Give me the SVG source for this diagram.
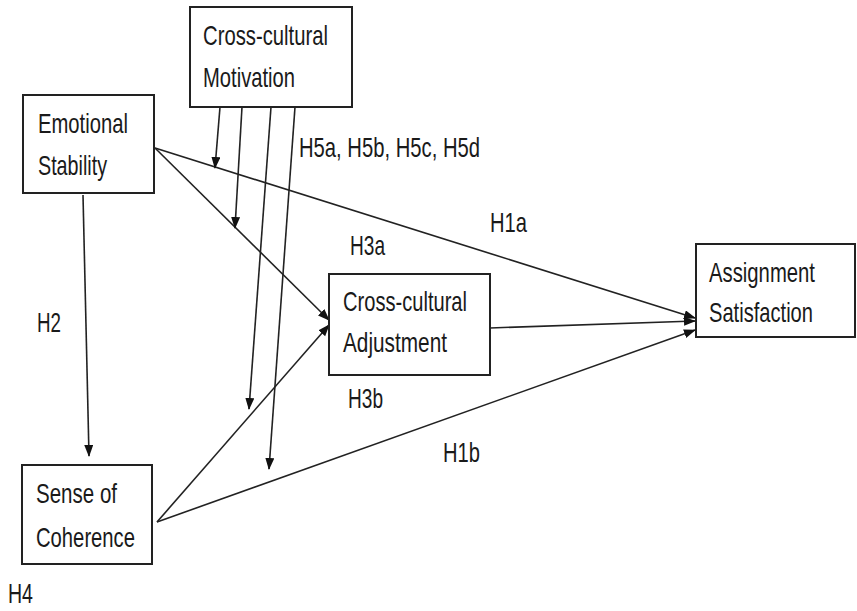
<svg xmlns="http://www.w3.org/2000/svg" width="857" height="611" viewBox="0 0 857 611">
<style>
.box{fill:#fff;stroke:#222;stroke-width:2}
.t{font-family:"Liberation Sans",Arial,sans-serif;font-size:28px;fill:#1a1a1a}
.c{stroke:#222;stroke-width:1.6;fill:none;marker-end:url(#ah)}
</style>
<defs>
<marker id="ah" markerUnits="userSpaceOnUse" markerWidth="12" markerHeight="10" refX="11" refY="4.5" orient="auto">
<path d="M0,0 L12,4.5 L0,9 z" fill="#111"/>
</marker>
</defs>
<rect width="857" height="611" fill="#fff"/>
<g id="connectors">
<line class="c" x1="155" y1="148" x2="695" y2="318"/>
<line class="c" x1="155" y1="148" x2="329" y2="320"/>
<line class="c" x1="490" y1="328" x2="695" y2="321"/>
<line class="c" x1="157" y1="522" x2="329" y2="325"/>
<line class="c" x1="157" y1="522" x2="695" y2="330"/>
<line class="c" x1="83" y1="195" x2="89" y2="456"/>
<line class="c" x1="220" y1="107" x2="215" y2="168"/>
<line class="c" x1="242" y1="107" x2="235" y2="228"/>
<line class="c" x1="271" y1="107" x2="249" y2="409"/>
<line class="c" x1="295" y1="107" x2="269" y2="469"/>
</g>
<g id="ccm">
<rect class="box" x="190" y="7" width="162" height="100"/>
<text class="t" x="203" y="45" textLength="125" lengthAdjust="spacingAndGlyphs">Cross-cultural</text>
<text class="t" x="203" y="87" textLength="92" lengthAdjust="spacingAndGlyphs">Motivation</text>
</g>
<g id="es">
<rect class="box" x="23" y="95" width="131" height="98"/>
<text class="t" x="38" y="133" textLength="90" lengthAdjust="spacingAndGlyphs">Emotional</text>
<text class="t" x="38" y="175" textLength="69" lengthAdjust="spacingAndGlyphs">Stability</text>
</g>
<g id="cca">
<rect class="box" x="329" y="274" width="161" height="101"/>
<text class="t" x="343" y="311" textLength="124" lengthAdjust="spacingAndGlyphs">Cross-cultural</text>
<text class="t" x="343" y="352" textLength="104" lengthAdjust="spacingAndGlyphs">Adjustment</text>
</g>
<g id="soc">
<rect class="box" x="22" y="465" width="130" height="99"/>
<text class="t" x="36" y="503" textLength="81" lengthAdjust="spacingAndGlyphs">Sense of</text>
<text class="t" x="36" y="547" textLength="99" lengthAdjust="spacingAndGlyphs">Coherence</text>
</g>
<g id="as">
<rect class="box" x="696" y="244" width="159" height="93"/>
<text class="t" x="709" y="282" textLength="106" lengthAdjust="spacingAndGlyphs">Assignment</text>
<text class="t" x="709" y="322" textLength="104" lengthAdjust="spacingAndGlyphs">Satisfaction</text>
</g>
<g id="labels">
<text class="t" x="299" y="157" textLength="181" lengthAdjust="spacingAndGlyphs">H5a, H5b, H5c, H5d</text>
<text class="t" x="490" y="232" textLength="37" lengthAdjust="spacingAndGlyphs">H1a</text>
<text class="t" x="350" y="255" textLength="35" lengthAdjust="spacingAndGlyphs">H3a</text>
<text class="t" x="348" y="408" textLength="35" lengthAdjust="spacingAndGlyphs">H3b</text>
<text class="t" x="443" y="462" textLength="37" lengthAdjust="spacingAndGlyphs">H1b</text>
<text class="t" x="37" y="332" textLength="24" lengthAdjust="spacingAndGlyphs">H2</text>
<text class="t" x="8" y="603" textLength="25" lengthAdjust="spacingAndGlyphs">H4</text>
</g>
</svg>
